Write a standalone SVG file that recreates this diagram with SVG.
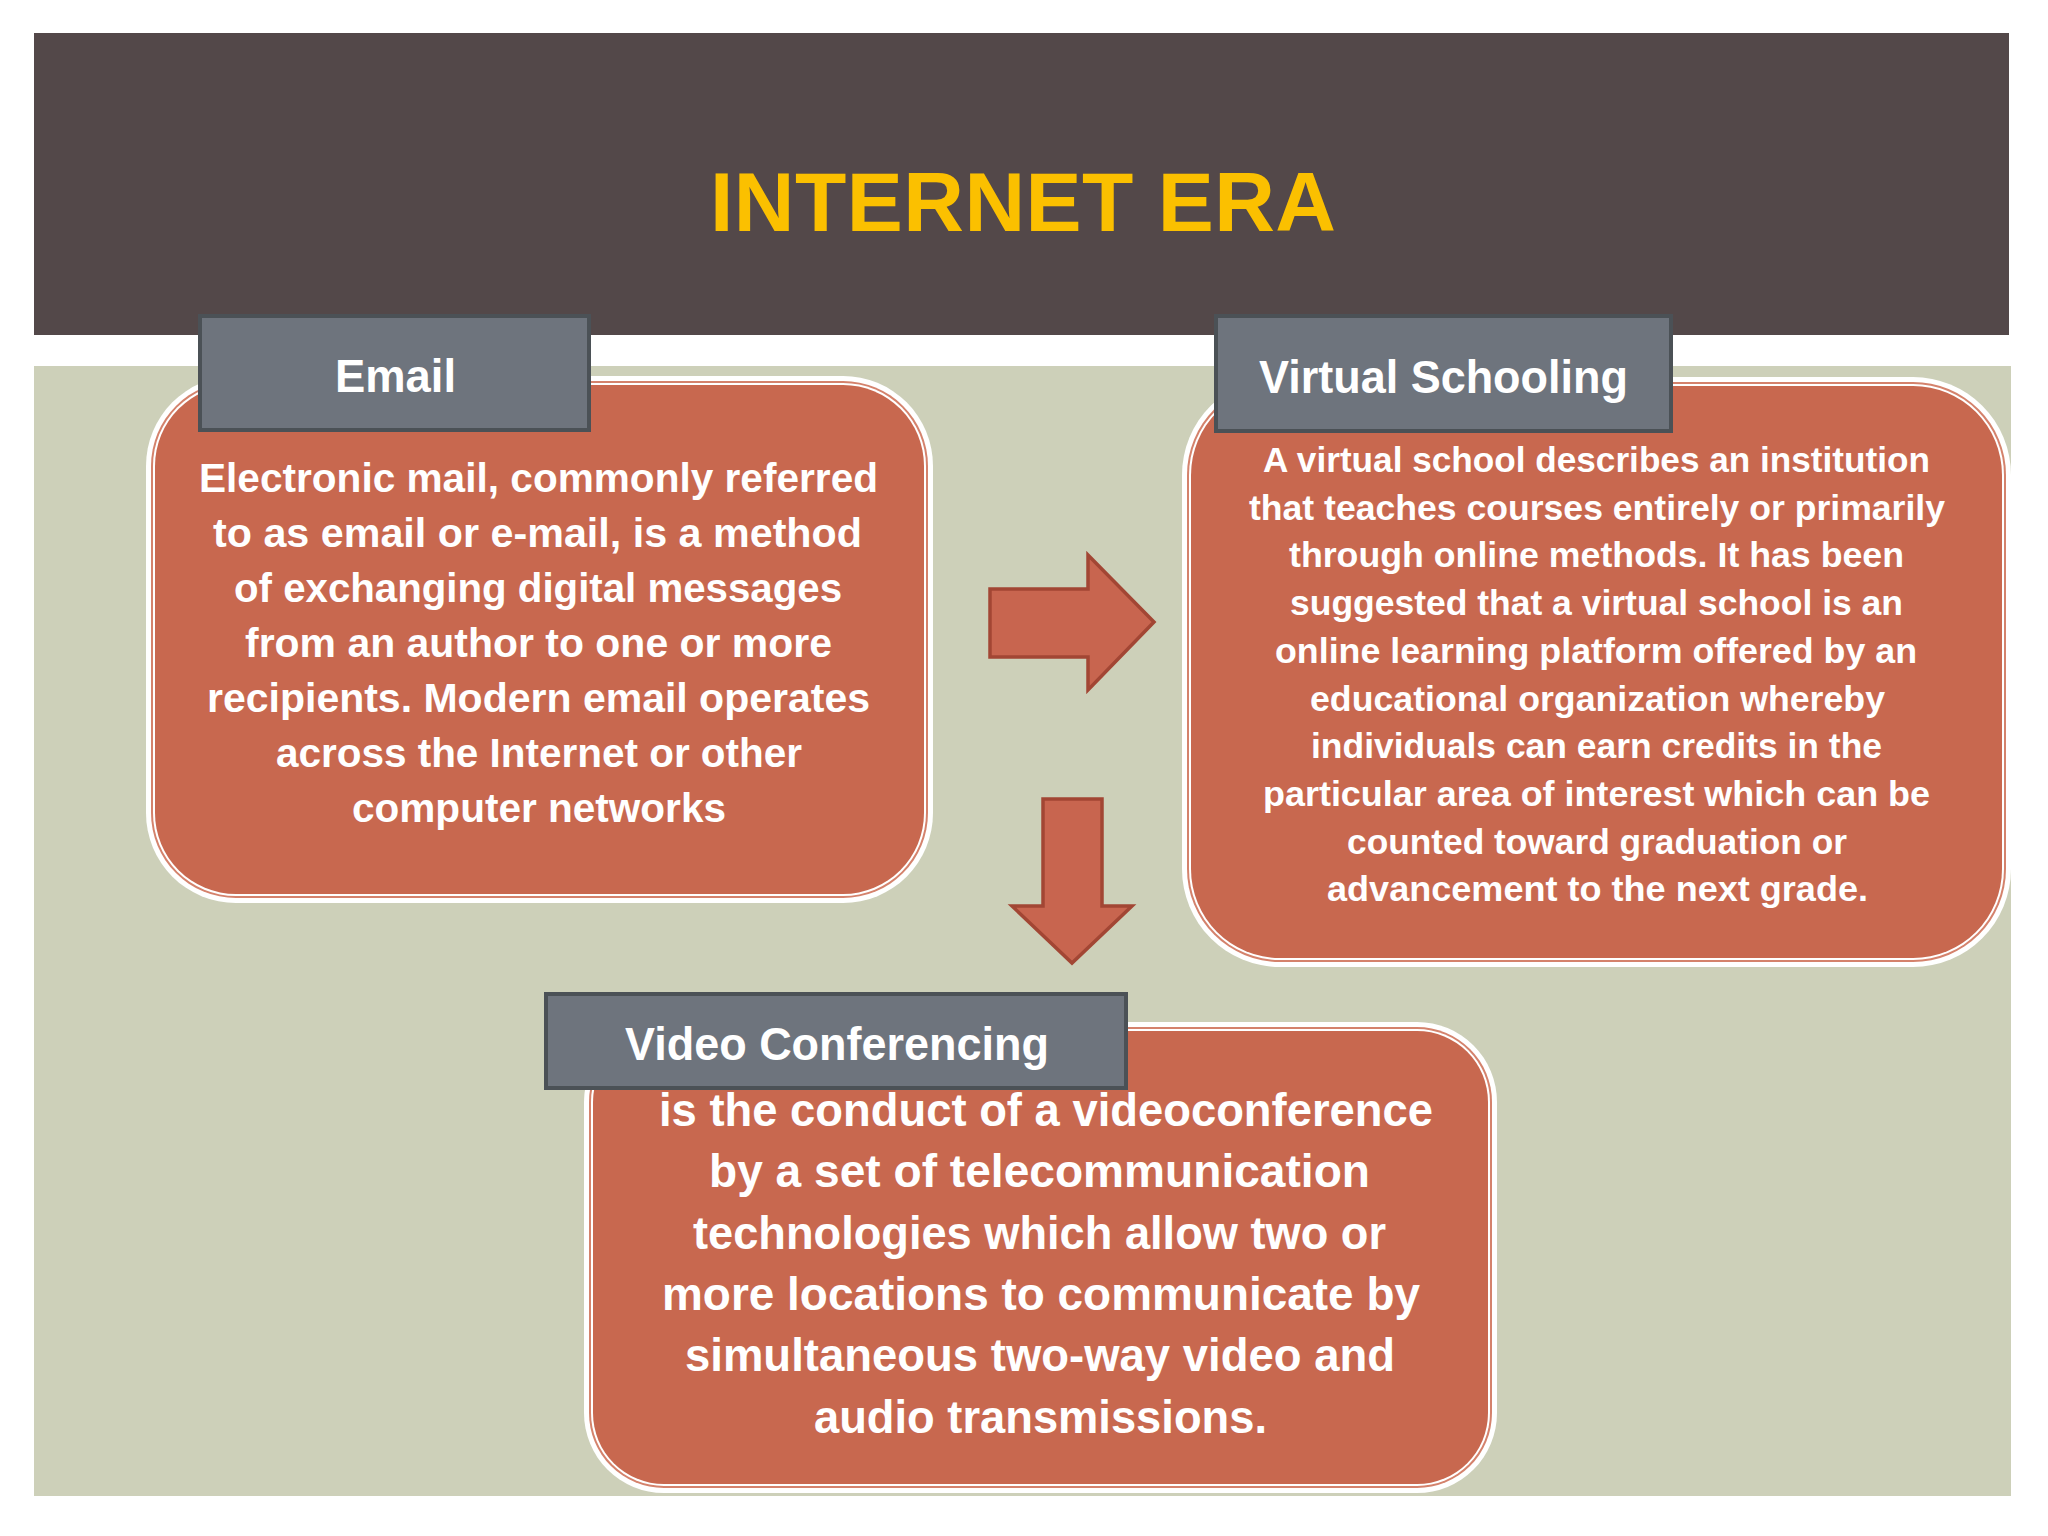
<svg xmlns="http://www.w3.org/2000/svg" width="2048" height="1536" viewBox="0 0 2048 1536">
  <style>
    .edge { fill: #ffffff; }
    .mid { fill: #d4826c; }
    .body { fill: #c8684f; }
    .tab { fill: #6e747d; stroke: #4b5156; stroke-width: 4; }
    .tabtxt { font-family: "Liberation Sans", Arial, sans-serif; font-weight: bold; font-size: 47px; fill: #ffffff; }
    .txt { font-family: "Liberation Sans", Arial, sans-serif; font-weight: bold; fill: #ffffff; }
    .arrow { fill: #c8654f; stroke: #a24634; stroke-width: 3.5; stroke-linejoin: miter; }
  </style>
  <rect x="0" y="0" width="2048" height="1536" fill="#ffffff"/>
  <g id="background">
    <rect x="34" y="366" width="1977" height="1130" fill="#cdd0b9"/>
    <rect x="34" y="33" width="1975" height="302" fill="#534849"/>
    <text x="710" y="231" font-family="Liberation Sans, Arial, sans-serif" font-weight="bold" font-size="84" fill="#fbc000" textLength="626" lengthAdjust="spacing">INTERNET ERA</text>
  </g>

  <g id="connectors">
    <polygon class="arrow" points="990,589 1088,589 1088,555 1154,622 1088,690 1088,657 990,657"/>
    <polygon class="arrow" points="1043,799 1102,799 1102,906 1132,906 1072,963 1012,906 1043,906"/>
  </g>

  <g id="email">
    <rect class="edge" x="146" y="376" width="787" height="527" rx="90"/>
    <rect class="mid" x="151" y="381" width="777" height="517" rx="85"/>
    <rect class="edge" x="153" y="383" width="773" height="513" rx="83"/>
    <rect class="body" x="155" y="385" width="769" height="509" rx="81"/>
    <text class="txt" font-size="40">
      <tspan x="199" y="492" textLength="679" lengthAdjust="spacingAndGlyphs">Electronic mail, commonly referred</tspan>
      <tspan x="213" y="547" textLength="649" lengthAdjust="spacingAndGlyphs">to as email or e-mail, is a method</tspan>
      <tspan x="234" y="602" textLength="608" lengthAdjust="spacingAndGlyphs">of exchanging digital messages</tspan>
      <tspan x="245" y="657" textLength="587" lengthAdjust="spacingAndGlyphs">from an author to one or more</tspan>
      <tspan x="207" y="712" textLength="663" lengthAdjust="spacingAndGlyphs">recipients. Modern email operates</tspan>
      <tspan x="276" y="767" textLength="526" lengthAdjust="spacingAndGlyphs">across the Internet or other</tspan>
      <tspan x="352" y="822" textLength="374" lengthAdjust="spacingAndGlyphs">computer networks</tspan>
    </text>
    <rect class="tab" x="200" y="316" width="389" height="114"/>
    <text class="tabtxt" x="335" y="392" textLength="121" lengthAdjust="spacingAndGlyphs">Email</text>
  </g>

  <g id="virtual-schooling">
    <rect class="edge" x="1182" y="377" width="829" height="590" rx="98"/>
    <rect class="mid" x="1187" y="382" width="819" height="580" rx="93"/>
    <rect class="edge" x="1189" y="384" width="815" height="576" rx="91"/>
    <rect class="body" x="1191" y="386" width="811" height="572" rx="89"/>
    <text class="txt" font-size="34.5">
      <tspan x="1263" y="472" textLength="667" lengthAdjust="spacingAndGlyphs">A virtual school describes an institution</tspan>
      <tspan x="1249" y="519.7" textLength="696" lengthAdjust="spacingAndGlyphs">that teaches courses entirely or primarily</tspan>
      <tspan x="1289" y="567.4" textLength="615" lengthAdjust="spacingAndGlyphs">through online methods. It has been</tspan>
      <tspan x="1290" y="615.1" textLength="613" lengthAdjust="spacingAndGlyphs">suggested that a virtual school is an</tspan>
      <tspan x="1275" y="662.8" textLength="642" lengthAdjust="spacingAndGlyphs">online learning platform offered by an</tspan>
      <tspan x="1310" y="710.5" textLength="575" lengthAdjust="spacingAndGlyphs">educational organization whereby</tspan>
      <tspan x="1311" y="758.2" textLength="571" lengthAdjust="spacingAndGlyphs">individuals can earn credits in the</tspan>
      <tspan x="1263" y="805.9" textLength="667" lengthAdjust="spacingAndGlyphs">particular area of interest which can be</tspan>
      <tspan x="1347" y="853.6" textLength="500" lengthAdjust="spacingAndGlyphs">counted toward graduation or</tspan>
      <tspan x="1327" y="901.3" textLength="541" lengthAdjust="spacingAndGlyphs">advancement to the next grade.</tspan>
    </text>
    <rect class="tab" x="1216" y="316" width="455" height="115"/>
    <text class="tabtxt" x="1259" y="393" textLength="369" lengthAdjust="spacingAndGlyphs">Virtual Schooling</text>
  </g>

  <g id="video-conferencing">
    <rect class="edge" x="584" y="1022" width="913" height="471" rx="80"/>
    <rect class="mid" x="589" y="1027" width="903" height="461" rx="75"/>
    <rect class="edge" x="591" y="1029" width="899" height="457" rx="73"/>
    <rect class="body" x="593" y="1031" width="895" height="453" rx="71"/>
    <text class="txt" font-size="46.5">
      <tspan x="659" y="1126" textLength="774" lengthAdjust="spacingAndGlyphs">is the conduct of a videoconference</tspan>
      <tspan x="709" y="1187.3" textLength="661" lengthAdjust="spacingAndGlyphs">by a set of telecommunication</tspan>
      <tspan x="693" y="1248.6" textLength="693" lengthAdjust="spacingAndGlyphs">technologies which allow two or</tspan>
      <tspan x="662" y="1309.9" textLength="758" lengthAdjust="spacingAndGlyphs">more locations to communicate by</tspan>
      <tspan x="685" y="1371.2" textLength="710" lengthAdjust="spacingAndGlyphs">simultaneous two-way video and</tspan>
      <tspan x="814" y="1432.5" textLength="453" lengthAdjust="spacingAndGlyphs">audio transmissions.</tspan>
    </text>
    <rect class="tab" x="546" y="994" width="580" height="94"/>
    <text class="tabtxt" font-size="48" x="625" y="1060" textLength="424" lengthAdjust="spacingAndGlyphs">Video Conferencing</text>
  </g>
</svg>
